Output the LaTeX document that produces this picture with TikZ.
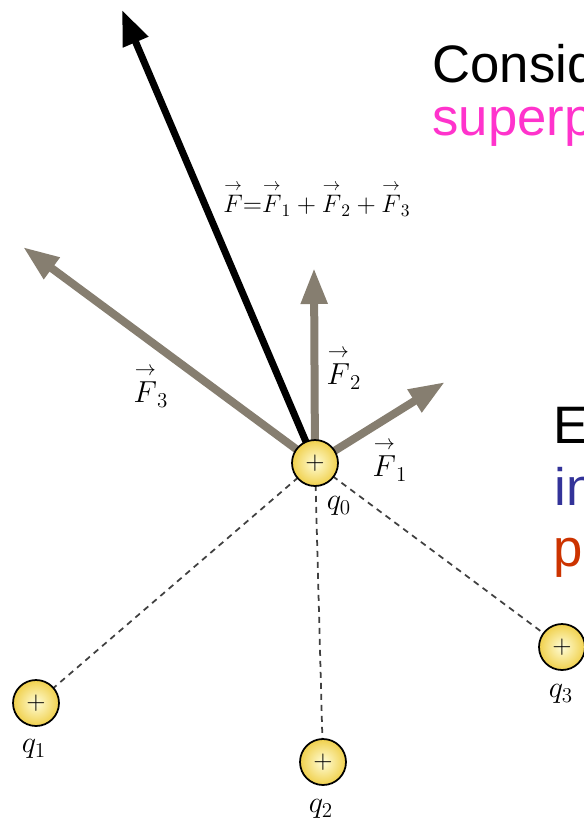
\documentclass[tikz,border=0pt]{standalone}
\usepackage{amsmath}
\usepackage{fontspec}
\newfontfamily\slidefont{Liberation Sans}
\usetikzlibrary{arrows.meta, positioning}
\definecolor{forcegray}{RGB}{134,126,112}
\definecolor{superpink}{RGB}{255,51,204}
\definecolor{slideblue}{RGB}{51,51,153}
\definecolor{slidered}{RGB}{204,51,0}
\definecolor{chargein}{RGB}{255,253,215}
\definecolor{chargeout}{RGB}{240,208,76}
\newcommand{\vF}{{\overset{\rightarrow}{F}}}

\begin{document}
\begin{tikzpicture}[x=0.02cm, y=-0.02cm,
    charge/.style={circle, draw=black, line width=0.035cm, minimum size=0.92cm, inner sep=0pt,
      inner color=chargein, outer color=chargeout, shading=radial, font=\fontsize{15}{18}\selectfont},
    qlabel/.style={font=\fontsize{17}{20}\selectfont},
    flabel/.style={font=\fontsize{18}{22}\selectfont},
    force/.style={forcegray, line width=0.16cm, -{Triangle[length=0.72cm, width=0.5cm]}},
    netforce/.style={black, line width=0.14cm, -{Triangle[length=0.7cm, width=0.52cm]}},
    fieldline/.style={black!75, line width=0.035cm, dash pattern=on 0.12cm off 0.1cm},
    slide/.style={anchor=base west, inner sep=0pt, font=\slidefont\fontsize{30}{36}\selectfont}]
      \useasboundingbox (0,0) rectangle (584,822);

      % Charge centres and force tips
      \coordinate (c0) at (315,463);
      \coordinate (c1) at (36,703);
      \coordinate (c2) at (323,762);
      \coordinate (c3) at (562,647);
      \coordinate (tipF) at (122,10);
      \coordinate (tipF1) at (445,382);
      \coordinate (tipF2) at (314,268);
      \coordinate (tipF3) at (23,247);

      % Dashed lines from q0 to the other charges
      \draw[fieldline] (c0) -- (c1);
      \draw[fieldline] (c0) -- (c2);
      \draw[fieldline] (c0) -- (c3);

      % Single forces, then the net force on top
      \draw[force] (c0) -- (tipF3);
      \draw[force] (c0) -- (tipF2);
      \draw[force] (c0) -- (tipF1);
      \draw[netforce] (c0) -- (tipF);

      % Charges drawn over the line ends
      \node[charge] (q0) at (c0) {$+$};
      \node[charge] (q1) at (c1) {$+$};
      \node[charge] (q2) at (c2) {$+$};
      \node[charge] (q3) at (c3) {$+$};

      % Labels
      \node[qlabel] (lq0) at (339,506) {$q_0$};
      \node[qlabel] (lq1) at (34,749) {$q_1$};
      \node[qlabel] (lq2) at (321,809) {$q_2$};
      \node[qlabel] (lq3) at (561,694) {$q_3$};
      \node[flabel] (lF1) at (390,460) {$\vF_1$};
      \node[flabel] (lF2) at (344,368) {$\vF_2$};
      \node[flabel] (lF3) at (151,386) {$\vF_3$};
      \node[font=\fontsize{14}{17}\selectfont] (lnet) at (317,199)
        {$\vF{=}\vF_1+\vF_2+\vF_3$};

      % Slide text, cut off at the right edge
      \node[slide] (consid) at (432,82) {Consid};
      \node[slide, text=superpink] (superp) at (432,135) {superp};
      \node[slide] (eline) at (553,443) {E};
      \node[slide, text=slideblue] (inline) at (554,505) {in};
      \node[slide, text=slidered] (prline) at (553,566) {pr};
    \end{tikzpicture}
\end{document}
